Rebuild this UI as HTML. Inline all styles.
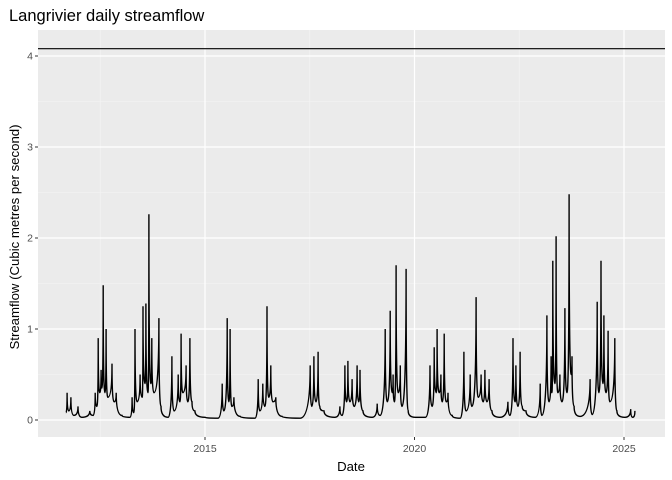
<!DOCTYPE html>
<html><head><meta charset="utf-8"><style>
body{margin:0;background:#fff;}
svg{display:block;font-family:"Liberation Sans",Arial,sans-serif;}
</style></head><body>
<svg id="chart" width="672" height="480">
<text x="9" y="21" font-size="16.5" fill="#000">Langrivier daily streamflow</text>
<rect x="38" y="30" width="627" height="407" fill="#ebebeb"/>
<g id="grid"></g>
<g id="series"></g>
<g id="axes"></g>
<text x="351" y="471" font-size="13.2" text-anchor="middle">Date</text>
<text transform="translate(19,237) rotate(-90)" font-size="13.2" text-anchor="middle">Streamflow (Cubic metres per second)</text>
</svg>
<script>
const dates=[2011.68,2011.71,2011.75,2011.80,2011.87,2011.97,2012.06,2012.25,2012.33,2012.38,2012.42,2012.45,2012.49,2012.52,2012.54,2012.57,2012.61,2012.64,2012.68,2012.78,2012.83,2012.88,2013.02,2013.21,2013.26,2013.30,2013.33,2013.38,2013.45,2013.50,2013.52,2013.57,2013.59,2013.64,2013.66,2013.71,2013.73,2013.78,2013.90,2013.95,2014.12,2014.21,2014.26,2014.36,2014.40,2014.43,2014.47,2014.55,2014.59,2014.64,2014.69,2014.76,2015.00,2015.31,2015.41,2015.45,2015.53,2015.57,2015.60,2015.64,2015.69,2015.84,2016.19,2016.27,2016.31,2016.38,2016.43,2016.48,2016.52,2016.57,2016.62,2016.69,2016.84,2017.27,2017.51,2017.55,2017.60,2017.65,2017.70,2017.74,2017.84,2018.10,2018.22,2018.27,2018.34,2018.38,2018.41,2018.46,2018.51,2018.56,2018.63,2018.67,2018.70,2018.77,2018.99,2019.11,2019.18,2019.30,2019.35,2019.42,2019.47,2019.49,2019.52,2019.56,2019.61,2019.66,2019.70,2019.80,2019.85,2020.02,2020.26,2020.37,2020.42,2020.47,2020.52,2020.54,2020.59,2020.63,2020.66,2020.71,2020.76,2020.80,2020.90,2021.09,2021.18,2021.23,2021.33,2021.37,2021.47,2021.52,2021.59,2021.64,2021.68,2021.73,2021.78,2021.85,2022.04,2022.23,2022.28,2022.35,2022.40,2022.42,2022.47,2022.52,2022.57,2022.66,2022.88,2023.00,2023.04,2023.16,2023.21,2023.26,2023.28,2023.30,2023.35,2023.38,2023.42,2023.47,2023.52,2023.59,2023.64,2023.69,2023.74,2023.76,2023.81,2023.95,2024.19,2024.24,2024.36,2024.40,2024.45,2024.50,2024.52,2024.57,2024.62,2024.66,2024.78,2024.83,2025.02,2025.16,2025.21,2025.26];
const flows=[0.08,0.3,0.1,0.25,0.05,0.15,0.03,0.1,0.05,0.3,0.15,0.9,0.3,0.55,0.35,1.48,0.3,1.0,0.25,0.62,0.2,0.3,0.05,0.03,0.25,0.08,1.0,0.2,0.5,0.25,1.25,0.4,1.28,0.3,2.26,0.4,0.9,0.3,1.12,0.15,0.03,0.7,0.1,0.5,0.2,0.95,0.3,0.6,0.2,0.9,0.2,0.1,0.03,0.02,0.4,0.1,1.12,0.2,1.0,0.15,0.25,0.04,0.02,0.45,0.1,0.4,0.15,1.25,0.25,0.6,0.2,0.25,0.04,0.02,0.6,0.15,0.7,0.2,0.75,0.15,0.1,0.03,0.15,0.05,0.6,0.2,0.65,0.2,0.45,0.15,0.6,0.2,0.55,0.1,0.03,0.18,0.05,1.0,0.2,1.2,0.3,0.5,0.2,1.7,0.3,0.6,0.15,1.66,0.1,0.03,0.03,0.6,0.15,0.8,0.3,1.0,0.3,0.5,0.2,0.95,0.2,0.3,0.05,0.02,0.75,0.1,0.5,0.15,1.35,0.25,0.5,0.2,0.55,0.2,0.45,0.1,0.03,0.2,0.05,0.9,0.2,0.6,0.15,0.75,0.15,0.1,0.03,0.4,0.05,1.15,0.2,0.7,0.3,1.75,0.4,2.02,0.3,0.5,0.2,1.23,0.3,2.48,0.5,0.7,0.15,0.04,0.45,0.06,1.3,0.3,1.75,0.4,1.15,0.3,0.98,0.2,0.9,0.1,0.03,0.12,0.03,0.1];
const yTicks=[0,1,2,3,4];
const xTicks=[2015,2020,2025];
const xMinor=[2012.5,2017.5,2022.5];
const yMinor=[0.5,1.5,2.5,3.5];
const hlineValue=4.08;

const NS="http://www.w3.org/2000/svg";
const L=38,R=665,T=30,B=437;
function xs(v){return 205+(v-2015)*41.9;}
function ys(v){return 420-v*91;}
function mk(tag,attrs,parent){const e=document.createElementNS(NS,tag);for(const k in attrs)e.setAttribute(k,attrs[k]);parent.appendChild(e);return e;}
const grid=document.getElementById('grid'),axes=document.getElementById('axes'),series=document.getElementById('series');
yMinor.forEach(v=>{const e=mk('line',{x1:L,x2:R,y1:ys(v),y2:ys(v),stroke:'#f5f5f5','stroke-width':0.6},grid);

});
xMinor.forEach(v=>{const e=mk('line',{x1:xs(v),x2:xs(v),y1:T,y2:B,stroke:'#f5f5f5','stroke-width':0.6},grid);

});
yTicks.forEach(v=>{const e=mk('line',{x1:L,x2:R,y1:ys(v),y2:ys(v),stroke:'#fff','stroke-width':1.2},grid);


const tk=mk('line',{x1:L-3,x2:L,y1:ys(v),y2:ys(v),stroke:'#333','stroke-width':1},axes);


const t=mk('text',{x:L-5,y:ys(v)+3.5,'font-size':10.5,fill:'#4d4d4d','text-anchor':'end'},axes);t.textContent=v;

});
xTicks.forEach(v=>{const e=mk('line',{x1:xs(v),x2:xs(v),y1:T,y2:B,stroke:'#fff','stroke-width':1.2},grid);


const tk=mk('line',{x1:xs(v),x2:xs(v),y1:B,y2:B+3,stroke:'#333','stroke-width':1},axes);


const t=mk('text',{x:xs(v),y:B+15,'font-size':10.5,fill:'#4d4d4d','text-anchor':'middle'},axes);t.textContent=v;

});
let d='M'+xs(dates[0]).toFixed(1)+','+ys(flows[0]).toFixed(1);
for(let i=1;i<dates.length;i++){
  const x0=xs(dates[i-1]),y0=ys(flows[i-1]),x1=xs(dates[i]),y1=ys(flows[i]);
  if(flows[i]>flows[i-1]){
    d+=' Q'+x1.toFixed(1)+','+y0.toFixed(1)+' '+x1.toFixed(1)+','+y1.toFixed(1);
  }else{
    d+=' Q'+x0.toFixed(1)+','+y1.toFixed(1)+' '+x1.toFixed(1)+','+y1.toFixed(1);
  }
}
const pl=mk('path',{d:d,fill:'none',stroke:'#000','stroke-width':1.4,'stroke-linejoin':'miter'},series);


const hl=mk('line',{x1:L,x2:R,y1:ys(hlineValue),y2:ys(hlineValue),stroke:'#000','stroke-width':1.1},series);


</script>
</body></html>
